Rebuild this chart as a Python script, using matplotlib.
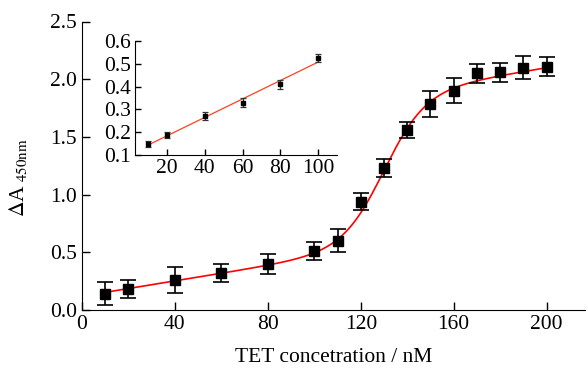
import numpy as np
import matplotlib
matplotlib.use("Agg")
import matplotlib.pyplot as plt

plt.rcParams['font.family'] = 'serif'
plt.rcParams['font.serif'] = ['Liberation Serif', 'DejaVu Serif']
plt.rcParams['mathtext.fontset'] = 'stix'
plt.rcParams['font.size'] = 15.5

# main data
conc = [10, 20, 40, 60, 80, 100, 110, 120, 130, 140, 150, 160, 170, 180, 190, 200]
dA = [0.14, 0.18, 0.26, 0.32, 0.40, 0.51, 0.60, 0.94, 1.23, 1.56, 1.785, 1.90, 2.05, 2.06, 2.10, 2.11]
dA_err = [0.10, 0.08, 0.11, 0.08, 0.085, 0.075, 0.10, 0.075, 0.08, 0.07, 0.11, 0.11, 0.08, 0.08, 0.10, 0.085]

# fit parameters (linear baseline + sigmoid)
base0, slope, amp, x0, k = 0.12, 0.0033, 1.32, 130, 9.0

# inset data
conc_in = [10, 20, 40, 60, 80, 100]
dA_in = [0.148, 0.188, 0.271, 0.329, 0.411, 0.527]
dA_in_err = [0.015, 0.015, 0.017, 0.02, 0.02, 0.017]

fig = plt.figure(figsize=(5.87, 3.70), dpi=100)
ax = fig.add_axes([82/587, 60/370, 503/587, 288.5/370])

xs = np.linspace(10, 200, 300)
ys = base0 + slope*xs + amp/(1 + np.exp(-(xs - x0)/k))
ax.plot(xs, ys, color='red', lw=1.2, zorder=2)
ax.errorbar(conc, dA, yerr=dA_err, fmt='s', color='black', ms=7.5,
            ecolor='black', elinewidth=1.2, capsize=6, capthick=1.2, zorder=3)

ax.set_xlim(0, 216.5)
ax.set_ylim(0, 2.5)
ax.set_xticks([0, 40, 80, 120, 160, 200])
ax.set_yticks([0.0, 0.5, 1.0, 1.5, 2.0, 2.5])
ax.set_yticklabels(['0.0', '0.5', '1.0', '1.5', '2.0', '2.5'])
ax.spines['top'].set_visible(False)
ax.spines['right'].set_visible(False)
ax.tick_params(direction='in', length=6, width=1, labelsize=15.5)
ax.set_xlabel('TET concetration / nM', fontsize=15.5, labelpad=10)
ax.set_ylabel(r'$\Delta$A$_{\ 450\mathrm{nm}}$', fontsize=15.5)
ax.yaxis.set_label_coords(-0.105, 0.46)

# inset
axi = fig.add_axes([135/587, (370-155)/370, 202/587, 114/370])
p = np.polyfit(conc_in, dA_in, 1)
xl = np.array([10, 100])
axi.plot(xl, np.polyval(p, xl), color='#ff4020', lw=0.9, zorder=2)
axi.errorbar(conc_in, dA_in, yerr=dA_in_err, fmt='s', color='black', ms=3.5,
             ecolor='#333333', elinewidth=0.9, capsize=2.5, capthick=0.9, zorder=3)
axi.set_xlim(3, 110)
axi.set_ylim(0.1, 0.6)
axi.set_xticks([20, 40, 60, 80, 100])
axi.set_yticks([0.1, 0.2, 0.3, 0.4, 0.5, 0.6])
axi.spines['top'].set_visible(False)
axi.spines['right'].set_visible(False)
axi.patch.set_alpha(0)
axi.tick_params(direction='in', length=4, width=1, labelsize=15.5, pad=3)

fig.savefig('out.png', dpi=100)
